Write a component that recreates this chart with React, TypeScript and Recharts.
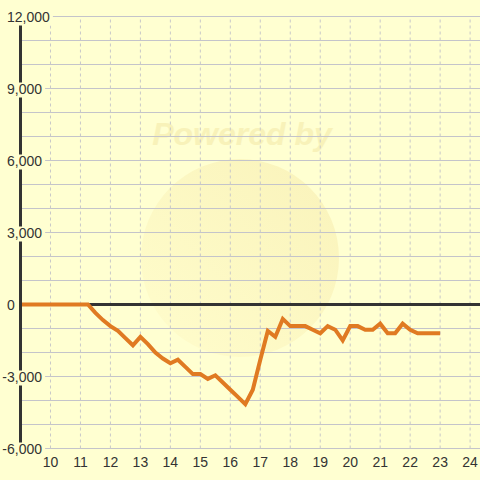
import React from "react";
import { LineChart, Line, XAxis, YAxis, ReferenceLine } from "recharts";

const TIMES = [
  9, 11.25, 11.5, 11.75, 12, 12.25, 12.5, 12.75, 13, 13.25, 13.5, 13.75, 14,
  14.25, 14.5, 14.75, 15, 15.25, 15.5, 15.75, 16, 16.25, 16.5, 16.75, 17,
  17.25, 17.5, 17.75, 18, 18.25, 18.5, 18.75, 19, 19.25, 19.5, 19.75, 20,
  20.25, 20.5, 20.75, 21, 21.25, 21.5, 21.75, 22, 22.25, 22.5, 22.75, 23,
];
const BALANCE = [
  0, 0, -350, -650, -900, -1100, -1400, -1700, -1350, -1650, -2000, -2250,
  -2450, -2300, -2600, -2900, -2900, -3100, -2950, -3250, -3550, -3850, -4150,
  -3550, -2300, -1100, -1350, -600, -900, -900, -900, -1050, -1200, -900,
  -1050, -1500, -900, -900, -1050, -1050, -800, -1200, -1200, -800, -1050,
  -1200, -1200, -1200, -1200,
];
const X_TICKS = [10, 11, 12, 13, 14, 15, 16, 17, 18, 19, 20, 21, 22, 23, 24];
const Y_TICKS = [-6000, -3000, 0, 3000, 6000, 9000, 12000];
const GRID_Y = [
  -6000, -5000, -4000, -3000, -2000, -1000, 1000, 2000, 3000, 4000, 5000,
  6000, 7000, 8000, 9000, 10000, 11000, 12000,
];

const data = TIMES.map((t, i) => ({ t, v: BALANCE[i] }));

const BG = "#FFFFD1";
const FONT = "'Liberation Sans', Arial, sans-serif";

function textWidth(s: string) {
  let w = 0;
  for (const c of s) {
    if (c === ",") w += 3.9;
    else if (c === "-") w += 4.7;
    else w += 7.8;
  }
  return w;
}

// y labels sit on a patch of background, so they break the axis and grid
const YTick = (props: any) => {
  const { y, payload } = props;
  const label = Number(payload.value).toLocaleString("en-US");
  const neg = payload.value < 0;
  const tx = neg ? 2.3 : 7;
  const w = textWidth(label);
  return (
    <g>
      <rect x={0} y={y - 6} width={tx + w + 3} height={15} fill={BG} />
      <text
        x={tx}
        y={y + 5.5}
        fontSize={14}
        fontFamily={FONT}
        fill="#333"
        textAnchor="start"
      >
        {label}
      </text>
    </g>
  );
};

const XTick = (props: any) => {
  const { x, payload } = props;
  return (
    <text
      x={x}
      y={467}
      fontSize={14}
      fontFamily={FONT}
      fill="#333"
      textAnchor="middle"
    >
      {payload.value}
    </text>
  );
};

export default function App() {
  return (
    <div
      style={{
        position: "relative",
        width: 480,
        height: 480,
        background: BG,
      }}
    >
      <style>{`body{margin:0}`}</style>
      <svg
        width={480}
        height={480}
        style={{ position: "absolute", left: 0, top: 0 }}
      >
        <defs>
          <linearGradient id="wm" x1="0" y1="1" x2="1" y2="0">
            <stop offset="0%" stopColor="#FFFBC8" />
            <stop offset="100%" stopColor="#F5E9A8" />
          </linearGradient>
        </defs>
        <circle cx={240} cy={258} r={99} fill="url(#wm)" opacity={0.55} />
        <text
          x={242}
          y={145}
          textAnchor="middle"
          fontSize={32}
          fontWeight="bold"
          fontStyle="italic"
          fontFamily={FONT}
          fill="#F6EDB0"
          opacity={0.7}
        >
          Powered by
        </text>
      </svg>
      <div style={{ position: "absolute", left: 0, top: 0 }}>
        <LineChart
          width={480}
          height={480}
          data={data}
          margin={{ top: 16.5, right: 0, bottom: 0, left: 0 }}
        >
          {GRID_Y.map((g) => (
            <ReferenceLine key={"h" + g} y={g} stroke="#C4C4CA" />
          ))}
          {X_TICKS.map((g) => (
            <ReferenceLine
              key={"v" + g}
              x={g}
              stroke="#C8C8C8"
              strokeDasharray="3 3"
            />
          ))}
          <ReferenceLine y={0} stroke="#333" strokeWidth={3} />
          <XAxis
            dataKey="t"
            type="number"
            domain={[9, 24.33]}
            ticks={X_TICKS}
            interval={0}
            allowDataOverflow
            axisLine={false}
            tickLine={false}
            height={31.5}
            tick={<XTick />}
          />
          <YAxis
            type="number"
            domain={[-6000, 12000]}
            ticks={Y_TICKS}
            interval={0}
            width={20.5}
            axisLine={{ stroke: "#333", strokeWidth: 3 }}
            tickLine={false}
            tick={<YTick />}
          />
          <Line
            dataKey="v"
            stroke="#E07A22"
            strokeWidth={4}
            dot={false}
            isAnimationActive={false}
            strokeLinejoin="miter"
          />
        </LineChart>
      </div>
    </div>
  );
}
